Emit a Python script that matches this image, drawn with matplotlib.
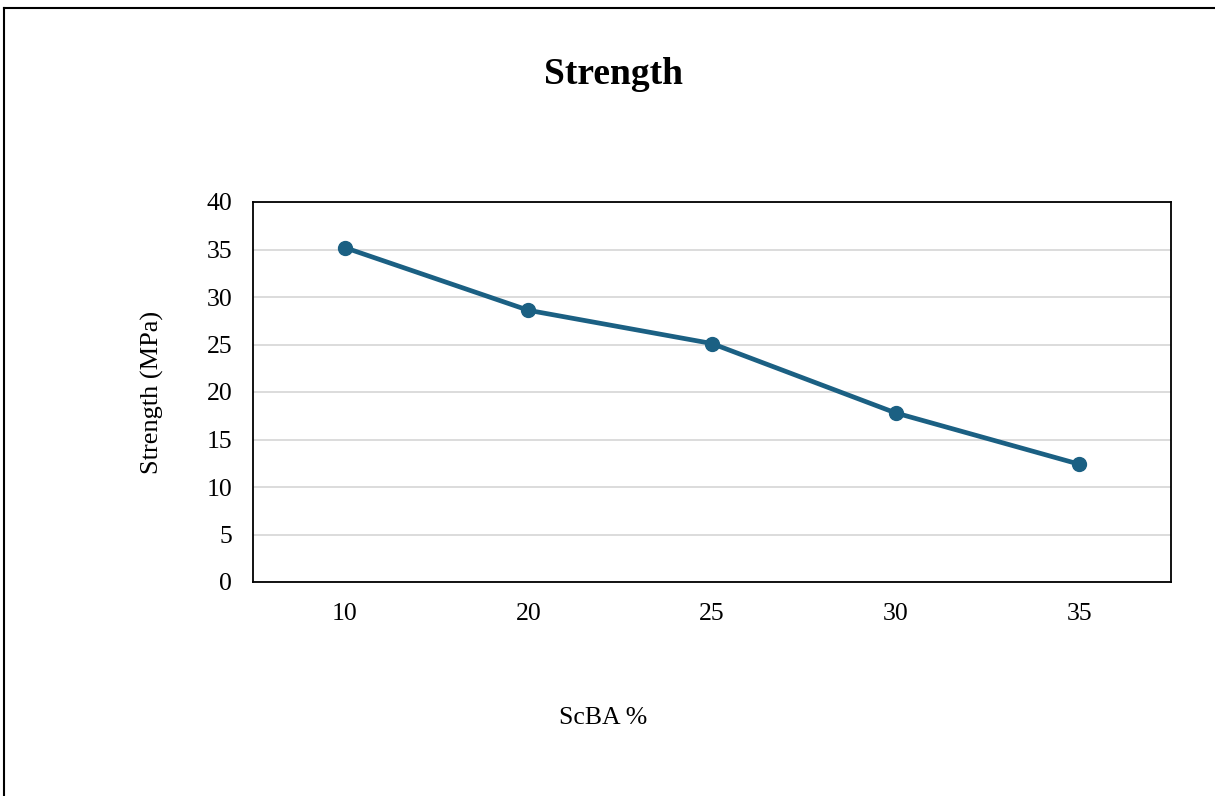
import matplotlib.pyplot as plt
from matplotlib.lines import Line2D

categories = ["10", "20", "25", "30", "35"]
strength = [35.2, 28.6, 25.1, 17.8, 12.4]
y_ticks = [0, 5, 10, 15, 20, 25, 30, 35, 40]

plt.rcParams["font.family"] = ["Liberation Serif", "DejaVu Serif"]

fig = plt.figure(figsize=(12.15, 7.96), dpi=100)
ax = fig.add_axes([253 / 1215, 1 - 582 / 796, 918 / 1215, 380 / 796])

x = list(range(len(categories)))
ax.plot(x, strength, color="#1b6083", linewidth=3.4, marker="o",
        markersize=10, zorder=3)

ax.set_xlim(-0.5, len(categories) - 0.5)
ax.set_ylim(0, 40)
ax.set_xticks(x)
ax.set_xticklabels(categories)
ax.set_yticks(y_ticks)
ax.tick_params(length=0, labelsize=18.5)
ax.tick_params(axis="y", pad=15)
ax.tick_params(axis="x", pad=15)
ax.grid(axis="y", color="#d9d9d9", linewidth=1.3)
ax.set_axisbelow(True)
for sp in ax.spines.values():
    sp.set_linewidth(1.3)
    sp.set_color("black")

fig.text(613 / 1215, 1 - 75 / 796, "Strength", ha="center", va="center",
         fontsize=27, fontweight="bold")
fig.text(152 / 1215, 1 - 392 / 796, "Strength (MPa)", ha="center",
         va="center", rotation=90, fontsize=19)
fig.text(603 / 1215, 1 - 718 / 796, "ScBA %", ha="center", va="center",
         fontsize=18.5)

# outer frame (top and left edges visible)
fig.add_artist(Line2D([4 / 1215, 1], [1 - 8 / 796, 1 - 8 / 796],
                      color="black", linewidth=1.5, transform=fig.transFigure))
fig.add_artist(Line2D([4 / 1215, 4 / 1215], [0, 1 - 8 / 796],
                      color="black", linewidth=1.5, transform=fig.transFigure))

fig.savefig("out.png", dpi=100)
